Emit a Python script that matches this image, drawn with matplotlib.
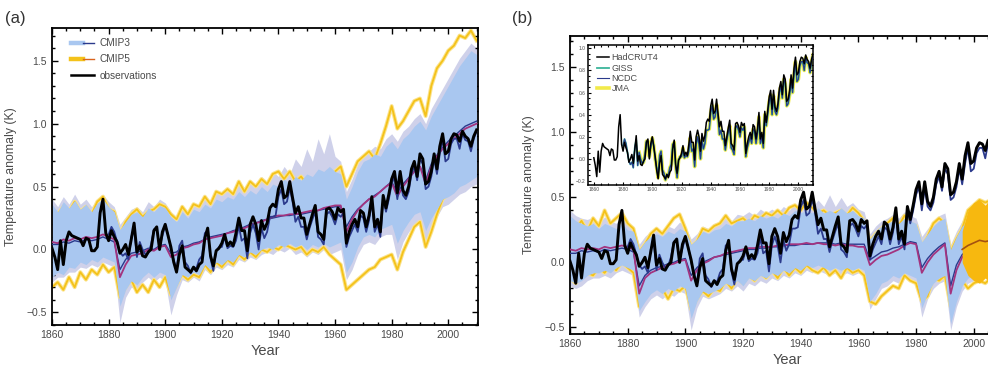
import numpy as np
import matplotlib
matplotlib.use("Agg")
import matplotlib.pyplot as plt
from matplotlib.lines import Line2D
from matplotlib.legend_handler import HandlerTuple
from matplotlib.ticker import MultipleLocator

plt.rcParams['font.family'] = ['Liberation Sans', 'DejaVu Sans']

# ---------------- data ----------------
years = np.arange(1860, 2011)        # annual observations
years_obs2 = np.arange(1880, 2011)
yrs2 = np.arange(1860, 2011, 2)      # model envelopes, every 2 years

obs = [0.01, -0.06, -0.16, 0.07, -0.12, 0.07, 0.14, 0.11, 0.10, 0.09,
       0.08, 0.03, 0.09, 0.08, -0.01, -0.01, 0.02, 0.29, 0.40, 0.13,
       0.07, 0.15, 0.10, 0.06, -0.03, 0.00, 0.04, -0.04, 0.08, 0.21,
       -0.02, 0.03, -0.05, -0.06, -0.02, 0.00, 0.15, 0.18, 0.00, 0.14,
       0.20, 0.11, 0.02, -0.10, -0.18, -0.04, 0.03, -0.14, -0.16, -0.18,
       -0.14, -0.17, -0.12, -0.10, 0.09, 0.17, -0.05, -0.13, -0.01, 0.01,
       0.05, 0.12, 0.03, 0.06, 0.03, 0.13, 0.25, 0.15, 0.15, -0.01,
       0.20, 0.26, 0.20, 0.07, 0.23, 0.16, 0.21, 0.33, 0.36, 0.34,
       0.48, 0.54, 0.41, 0.43, 0.54, 0.41, 0.29, 0.34, 0.25, 0.25,
       0.12, 0.20, 0.28, 0.35, 0.14, 0.12, 0.08, 0.32, 0.33, 0.30,
       0.24, 0.33, 0.30, 0.32, 0.05, 0.14, 0.20, 0.24, 0.18, 0.31,
       0.29, 0.18, 0.27, 0.42, 0.18, 0.24, 0.14, 0.43, 0.33, 0.44,
       0.56, 0.62, 0.45, 0.62, 0.47, 0.43, 0.50, 0.64, 0.70, 0.58,
       0.76, 0.72, 0.52, 0.54, 0.62, 0.76, 0.64, 0.82, 0.92, 0.76,
       0.78, 0.88, 0.92, 0.91, 0.86, 0.94, 0.90, 0.88, 0.82, 0.90,
       0.95]

obs2 = [0.12, 0.18, 0.14, 0.06, -0.02, -0.05, -0.03, -0.08, 0.10, 0.17,
        -0.06, 0.06, 0.00, -0.04, -0.03, 0.04, 0.16, 0.16, 0.02, 0.11,
        0.19, 0.12, 0.00, -0.08, -0.17, 0.03, 0.07, -0.10, -0.13, -0.19,
        -0.14, -0.15, -0.08, -0.05, 0.13, 0.15, -0.07, -0.17, -0.01, 0.02,
        0.02, 0.10, 0.01, 0.03, 0.02, 0.07, 0.19, 0.07, 0.09, -0.07,
        0.13, 0.20, 0.13, 0.00, 0.17, 0.09, 0.14, 0.26, 0.26, 0.27,
        0.42, 0.48, 0.36, 0.38, 0.49, 0.38, 0.22, 0.26, 0.18, 0.18,
        0.08, 0.17, 0.24, 0.30, 0.10, 0.08, 0.04, 0.28, 0.30, 0.26,
        0.20, 0.28, 0.26, 0.29, 0.02, 0.10, 0.15, 0.20, 0.14, 0.27,
        0.25, 0.14, 0.23, 0.38, 0.14, 0.20, 0.10, 0.40, 0.30, 0.40,
        0.52, 0.58, 0.40, 0.57, 0.43, 0.40, 0.46, 0.60, 0.66, 0.55,
        0.72, 0.68, 0.48, 0.50, 0.58, 0.72, 0.60, 0.76, 0.88, 0.70,
        0.72, 0.84, 0.88, 0.88, 0.80, 0.92, 0.87, 0.86, 0.78, 0.88,
        0.94]

# panel (a): all forcings
a_blue_hi = [0.36, 0.30, 0.38, 0.33, 0.39, 0.32, 0.36, 0.30, 0.37, 0.40,
             0.34, 0.30, 0.16, 0.22, 0.28, 0.30, 0.26, 0.33, 0.30, 0.35,
             0.33, 0.26, 0.22, 0.30, 0.25, 0.32, 0.30, 0.36, 0.33, 0.40,
             0.38, 0.42, 0.40, 0.46, 0.42, 0.47, 0.44, 0.50, 0.46, 0.52,
             0.50, 0.56, 0.52, 0.58, 0.55, 0.60, 0.58, 0.64, 0.62, 0.66,
             0.62, 0.60, 0.40, 0.50, 0.62, 0.70, 0.72, 0.76, 0.74, 0.82,
             0.86, 0.80, 0.88, 0.92, 0.98, 1.02, 0.95, 1.06, 1.14, 1.22,
             1.30, 1.38, 1.46, 1.52, 1.58, 1.55]
a_blue_lo = [-0.22, -0.18, -0.20, -0.14, -0.15, -0.10, -0.12, -0.08, -0.10, -0.06,
             -0.08, -0.10, -0.45, -0.32, -0.25, -0.28, -0.22, -0.18, -0.22, -0.18,
             -0.20, -0.40, -0.30, -0.20, -0.22, -0.18, -0.20, -0.12, -0.16, -0.10,
             -0.12, -0.08, -0.10, -0.04, -0.06, -0.02, -0.04, 0.00, 0.02, 0.00,
             0.04, 0.02, 0.05, 0.02, 0.04, 0.00, 0.04, 0.02, 0.05, 0.02,
             0.04, 0.06, -0.18, -0.10, 0.02, 0.10, 0.12, 0.10, 0.16, 0.18,
             0.20, 0.05, 0.15, 0.22, 0.28, 0.30, 0.15, 0.25, 0.32, 0.40,
             0.42, 0.45, 0.50, 0.52, 0.55, 0.58]
a_lav_hi = [0.40, 0.34, 0.42, 0.36, 0.44, 0.36, 0.40, 0.34, 0.40, 0.44,
            0.38, 0.34, 0.20, 0.26, 0.32, 0.34, 0.30, 0.38, 0.34, 0.40,
            0.37, 0.30, 0.26, 0.35, 0.30, 0.37, 0.34, 0.42, 0.38, 0.45,
            0.44, 0.48, 0.46, 0.54, 0.48, 0.55, 0.50, 0.58, 0.54, 0.62,
            0.58, 0.66, 0.60, 0.72, 0.66, 0.80, 0.70, 0.88, 0.76, 0.92,
            0.74, 0.70, 0.46, 0.56, 0.68, 0.76, 0.78, 0.82, 0.80, 0.88,
            0.92, 0.86, 0.94, 0.98, 1.04, 1.08, 1.00, 1.12, 1.20, 1.28,
            1.36, 1.44, 1.52, 1.58, 1.64, 1.60]
a_lav_lo = [-0.26, -0.22, -0.22, -0.18, -0.18, -0.14, -0.15, -0.12, -0.14, -0.10,
            -0.12, -0.14, -0.58, -0.38, -0.30, -0.32, -0.26, -0.22, -0.26, -0.22,
            -0.25, -0.52, -0.36, -0.24, -0.26, -0.22, -0.25, -0.16, -0.20, -0.14,
            -0.16, -0.12, -0.14, -0.08, -0.10, -0.06, -0.08, -0.04, -0.02, -0.04,
            0.00, -0.02, 0.01, -0.04, -0.02, -0.06, -0.02, -0.04, 0.00, -0.04,
            -0.02, 0.00, -0.24, -0.16, -0.04, 0.04, 0.06, 0.04, 0.10, 0.12,
            0.12, -0.08, 0.06, 0.14, 0.20, 0.22, 0.06, 0.18, 0.26, 0.34,
            0.36, 0.40, 0.44, 0.46, 0.50, 0.52]
a_yel_hi = [0.30, 0.28, 0.34, 0.30, 0.38, 0.30, 0.34, 0.28, 0.38, 0.42,
            0.32, 0.30, 0.12, 0.22, 0.28, 0.32, 0.26, 0.30, 0.32, 0.36,
            0.34, 0.28, 0.24, 0.34, 0.28, 0.36, 0.34, 0.42, 0.36, 0.46,
            0.44, 0.48, 0.44, 0.54, 0.46, 0.54, 0.50, 0.56, 0.52, 0.60,
            0.62, 0.56, 0.62, 0.54, 0.58, 0.52, 0.56, 0.54, 0.50, 0.58,
            0.62, 0.66, 0.50, 0.60, 0.70, 0.74, 0.78, 0.72, 0.84, 0.98,
            1.14, 0.96, 1.02, 1.10, 1.18, 1.20, 1.06, 1.30, 1.44, 1.50,
            1.58, 1.62, 1.70, 1.68, 1.74, 1.66]
a_yel_lo = [-0.30, -0.26, -0.32, -0.22, -0.30, -0.18, -0.24, -0.16, -0.20, -0.12,
            -0.18, -0.14, -0.38, -0.30, -0.24, -0.34, -0.28, -0.34, -0.24, -0.30,
            -0.22, -0.36, -0.28, -0.20, -0.24, -0.20, -0.22, -0.12, -0.18, -0.10,
            -0.14, -0.08, -0.12, -0.04, -0.08, -0.02, -0.06, 0.00, -0.02, 0.02,
            0.00, 0.04, 0.02, 0.00, 0.02, -0.04, 0.00, -0.02, 0.02, -0.04,
            -0.08, -0.12, -0.32, -0.28, -0.24, -0.20, -0.16, -0.14, -0.08, -0.06,
            -0.04, -0.16, -0.02, 0.08, 0.18, 0.22, 0.02, 0.14, 0.28, 0.40,
            0.44, 0.48, 0.52, 0.56, 0.60, 0.62]
a_mean5 = [0.06, 0.05, 0.08, 0.07, 0.09, 0.08, 0.10, 0.09, 0.10, 0.12,
           0.10, 0.08, -0.22, -0.12, -0.05, -0.04, -0.03, 0.00, -0.01, 0.02,
           0.03, -0.06, -0.04, 0.01, 0.02, 0.04, 0.05, 0.08, 0.09, 0.10,
           0.11, 0.13, 0.14, 0.16, 0.17, 0.19, 0.21, 0.22, 0.24, 0.26,
           0.27, 0.27, 0.28, 0.28, 0.29, 0.30, 0.31, 0.31, 0.33, 0.34,
           0.35, 0.35, 0.14, 0.24, 0.31, 0.36, 0.40, 0.42, 0.46, 0.50,
           0.53, 0.42, 0.50, 0.56, 0.62, 0.66, 0.52, 0.66, 0.74, 0.80,
           0.84, 0.88, 0.92, 0.96, 0.98, 1.00]
a_mean3 = [0.04, 0.04, 0.06, 0.05, 0.07, 0.06, 0.08, 0.07, 0.08, 0.10,
           0.08, 0.06, -0.16, -0.08, -0.03, -0.02, -0.01, 0.01, 0.00, 0.03,
           0.04, -0.03, -0.02, 0.02, 0.03, 0.05, 0.06, 0.08, 0.10, 0.11,
           0.12, 0.13, 0.15, 0.16, 0.18, 0.20, 0.21, 0.23, 0.24, 0.25,
           0.26, 0.27, 0.27, 0.28, 0.28, 0.29, 0.30, 0.31, 0.32, 0.33,
           0.34, 0.34, 0.18, 0.26, 0.32, 0.36, 0.40, 0.43, 0.46, 0.50,
           0.54, 0.45, 0.52, 0.57, 0.62, 0.66, 0.55, 0.68, 0.75, 0.81,
           0.86, 0.90, 0.94, 0.98, 1.00, 1.02]

# panel (b): natural forcings only
b_blue_hi = [0.36, 0.32, 0.30, 0.28, 0.30, 0.26, 0.30, 0.28, 0.26, 0.30,
             0.25, 0.24, 0.10, 0.16, 0.20, 0.22, 0.20, 0.24, 0.22, 0.26,
             0.24, 0.14, 0.18, 0.24, 0.22, 0.25, 0.26, 0.30, 0.28, 0.32,
             0.32, 0.34, 0.32, 0.36, 0.34, 0.36, 0.34, 0.38, 0.36, 0.40,
             0.38, 0.40, 0.38, 0.42, 0.38, 0.40, 0.38, 0.42, 0.38, 0.40,
             0.36, 0.34, 0.18, 0.24, 0.28, 0.30, 0.32, 0.30, 0.34, 0.32,
             0.30, 0.16, 0.22, 0.28, 0.32, 0.34, 0.10, 0.20, 0.28, 0.32,
             0.34, 0.36, 0.38, 0.36, 0.38, 0.36]
b_blue_lo = [-0.14, -0.16, -0.14, -0.10, -0.08, -0.08, -0.06, -0.08, -0.04, -0.02,
             -0.04, -0.06, -0.37, -0.30, -0.24, -0.21, -0.24, -0.20, -0.22, -0.18,
             -0.20, -0.43, -0.30, -0.22, -0.24, -0.22, -0.20, -0.16, -0.18, -0.14,
             -0.18, -0.12, -0.14, -0.10, -0.12, -0.08, -0.10, -0.06, -0.08, -0.04,
             -0.06, -0.02, -0.04, -0.02, -0.04, -0.06, -0.04, -0.06, -0.04, -0.06,
             -0.04, -0.06, -0.30, -0.24, -0.16, -0.14, -0.10, -0.12, -0.08, -0.10,
             -0.12, -0.35, -0.24, -0.16, -0.12, -0.10, -0.47, -0.30, -0.18, -0.12,
             -0.10, -0.08, -0.06, -0.08, -0.06, -0.08]
b_lav_hi = [0.40, 0.36, 0.34, 0.33, 0.35, 0.30, 0.35, 0.32, 0.30, 0.36,
            0.30, 0.28, 0.14, 0.20, 0.24, 0.27, 0.24, 0.28, 0.26, 0.31,
            0.28, 0.18, 0.22, 0.28, 0.26, 0.30, 0.31, 0.35, 0.32, 0.37,
            0.36, 0.39, 0.36, 0.41, 0.38, 0.41, 0.38, 0.43, 0.40, 0.45,
            0.42, 0.46, 0.42, 0.48, 0.43, 0.52, 0.43, 0.50, 0.43, 0.46,
            0.41, 0.39, 0.22, 0.28, 0.32, 0.34, 0.37, 0.34, 0.39, 0.36,
            0.34, 0.20, 0.26, 0.32, 0.36, 0.38, 0.14, 0.24, 0.32, 0.36,
            0.38, 0.40, 0.42, 0.40, 0.42, 0.40]
b_lav_lo = [-0.18, -0.20, -0.18, -0.14, -0.12, -0.12, -0.10, -0.12, -0.08, -0.06,
            -0.08, -0.10, -0.42, -0.34, -0.28, -0.25, -0.28, -0.24, -0.26, -0.22,
            -0.24, -0.52, -0.35, -0.26, -0.28, -0.26, -0.24, -0.20, -0.22, -0.18,
            -0.22, -0.16, -0.18, -0.14, -0.16, -0.12, -0.14, -0.10, -0.12, -0.08,
            -0.10, -0.06, -0.08, -0.06, -0.08, -0.10, -0.08, -0.10, -0.08, -0.10,
            -0.08, -0.10, -0.36, -0.28, -0.20, -0.18, -0.14, -0.16, -0.12, -0.14,
            -0.16, -0.42, -0.28, -0.20, -0.16, -0.14, -0.52, -0.34, -0.22, -0.16,
            -0.14, -0.12, -0.10, -0.12, -0.10, -0.12]
b_yel_hi = [0.30, 0.26, 0.32, 0.24, 0.34, 0.28, 0.40, 0.30, 0.34, 0.38,
            0.30, 0.26, 0.08, 0.14, 0.22, 0.26, 0.22, 0.28, 0.34, 0.37,
            0.26, 0.12, 0.16, 0.26, 0.24, 0.28, 0.30, 0.36, 0.30, 0.32,
            0.34, 0.30, 0.36, 0.34, 0.38, 0.36, 0.40, 0.36, 0.42, 0.44,
            0.40, 0.46, 0.42, 0.38, 0.40, 0.36, 0.38, 0.40, 0.36, 0.42,
            0.38, 0.32, 0.16, 0.22, 0.26, 0.30, 0.34, 0.28, 0.36, 0.30,
            0.28, 0.12, 0.20, 0.30, 0.34, 0.30, 0.08, 0.18, 0.26, 0.40,
            0.44, 0.48, 0.46, 0.48, 0.44, 0.46]
b_yel_lo = [-0.12, -0.16, -0.10, -0.08, -0.10, -0.04, -0.08, -0.02, -0.06, 0.00,
            -0.04, -0.08, -0.34, -0.26, -0.22, -0.18, -0.20, -0.28, -0.20, -0.22,
            -0.18, -0.36, -0.28, -0.22, -0.26, -0.20, -0.22, -0.14, -0.20, -0.12,
            -0.16, -0.10, -0.14, -0.08, -0.12, -0.06, -0.12, -0.04, -0.10, -0.04,
            -0.08, -0.02, -0.06, -0.08, -0.04, -0.10, -0.06, -0.12, -0.04, -0.08,
            -0.06, -0.10, -0.30, -0.32, -0.26, -0.22, -0.18, -0.20, -0.10, -0.14,
            -0.16, -0.30, -0.26, -0.12, -0.14, -0.10, -0.34, -0.24, -0.14, -0.20,
            -0.16, -0.14, -0.16, -0.12, -0.14, -0.12]
b_mean5 = [0.10, 0.09, 0.11, 0.10, 0.11, 0.10, 0.12, 0.11, 0.12, 0.13,
           0.12, 0.10, -0.24, -0.12, -0.08, -0.06, -0.04, -0.02, -0.01, 0.01,
           0.02, -0.14, -0.06, -0.01, 0.01, 0.04, 0.05, 0.07, 0.08, 0.09,
           0.10, 0.11, 0.11, 0.12, 0.12, 0.12, 0.13, 0.13, 0.14, 0.14,
           0.14, 0.15, 0.14, 0.15, 0.14, 0.14, 0.13, 0.14, 0.13, 0.13,
           0.12, 0.12, -0.02, 0.02, 0.05, 0.06, 0.08, 0.10, 0.13, 0.15,
           0.14, -0.08, 0.00, 0.06, 0.10, 0.14, -0.24, -0.06, 0.04, 0.09,
           0.13, 0.15, 0.16, 0.16, 0.15, 0.15]
b_mean3 = [0.07, 0.07, 0.09, 0.08, 0.09, 0.08, 0.10, 0.09, 0.10, 0.11,
           0.10, 0.08, -0.18, -0.10, -0.06, -0.04, -0.03, -0.01, 0.00, 0.02,
           0.03, -0.10, -0.04, 0.00, 0.02, 0.04, 0.05, 0.06, 0.07, 0.08,
           0.09, 0.10, 0.10, 0.11, 0.11, 0.12, 0.12, 0.13, 0.13, 0.13,
           0.14, 0.14, 0.14, 0.15, 0.15, 0.15, 0.14, 0.15, 0.14, 0.14,
           0.14, 0.14, 0.02, 0.05, 0.08, 0.09, 0.11, 0.12, 0.14, 0.16,
           0.15, -0.04, 0.03, 0.08, 0.12, 0.15, -0.18, -0.02, 0.06, 0.10,
           0.13, 0.15, 0.16, 0.16, 0.15, 0.15]

# CMIP5 extension (orange) at the end of panel (b)
ext_years = [1996, 1998, 2000, 2002, 2004, 2006, 2008, 2010]
ext_hi = [0.24, 0.40, 0.46, 0.48, 0.44, 0.50, 0.46, 0.42]
ext_lo = [0.00, -0.10, -0.14, -0.16, -0.12, -0.16, -0.14, -0.10]
ext_mid = [0.10, 0.13, 0.15, 0.17, 0.16, 0.17, 0.16, 0.15]

for arr in [a_blue_hi, a_blue_lo, a_lav_hi, a_lav_lo, a_yel_hi, a_yel_lo, a_mean5, a_mean3,
            b_blue_hi, b_blue_lo, b_lav_hi, b_lav_lo, b_yel_hi, b_yel_lo, b_mean5, b_mean3]:
    assert len(arr) == len(yrs2), len(arr)
assert len(obs) == len(years) and len(obs2) == len(years_obs2)

# ---------------- colours ----------------
c_blue = "#a9c7f0"
c_lav = "#cfd1ea"
c_yel = "#f4c21a"
c_yel_light = "#fbe38c"
c_mag = "#a3347f"
c_navy = "#2b3a8c"
grey = "#4a4a4a"


def style(ax, ylim):
    ax.set_xlim(1860, 2010.5)
    ax.set_ylim(*ylim)
    ax.xaxis.set_major_locator(MultipleLocator(20))
    ax.xaxis.set_minor_locator(MultipleLocator(5))
    ax.yaxis.set_major_locator(MultipleLocator(0.5))
    ax.yaxis.set_minor_locator(MultipleLocator(0.1))
    ax.tick_params(which='both', direction='in', top=True, right=True,
                   labelsize=7.5, labelcolor=grey, width=1.0)
    ax.tick_params(which='major', length=4.5)
    ax.tick_params(which='minor', length=2.5)
    for s in ax.spines.values():
        s.set_linewidth(1.3)
    ax.set_xlabel('Year', fontsize=10.5, color=grey, labelpad=3)
    ax.set_ylabel('Temperature anomaly (K)', fontsize=8.8, color=grey, labelpad=7)


def draw_models(ax, lav_hi, lav_lo, blue_hi, blue_lo, yel_hi, yel_lo, m5, m3):
    ax.fill_between(yrs2, lav_lo, lav_hi, color=c_lav, lw=0, zorder=1)
    # CMIP5 spread: drawn beneath the CMIP3 band so only the excursions show
    for y in (yel_hi, yel_lo):
        ax.plot(yrs2, y, color=c_yel_light, lw=2.8, zorder=1.5)
        ax.plot(yrs2, y, color=c_yel, lw=1.3, zorder=1.6)
    ax.fill_between(yrs2, blue_lo, blue_hi, color=c_blue, lw=0, zorder=2)
    ax.plot(yrs2, m3, color=c_navy, lw=1.0, zorder=4)
    ax.plot(yrs2, m5, color=c_mag, lw=1.3, zorder=4)


def draw_obs(ax):
    ax.plot(years_obs2, obs2, color=c_navy, lw=1.3, zorder=5)
    ax.plot(years, obs, color='black', lw=2.1, zorder=6)


fig = plt.figure(figsize=(9.88, 3.76), dpi=100)

# ---------------- panel (a) ----------------
ax1 = fig.add_axes([52 / 988, 1 - 325 / 376, 426 / 988, 297 / 376])
draw_models(ax1, a_lav_hi, a_lav_lo, a_blue_hi, a_blue_lo, a_yel_hi, a_yel_lo, a_mean5, a_mean3)
draw_obs(ax1)
style(ax1, (-0.6, 1.76))

h3 = (Line2D([], [], color=c_blue, lw=3.2), Line2D([], [], color=c_navy, lw=1.0))
h5 = (Line2D([], [], color=c_yel, lw=3.2), Line2D([], [], color="#d9631e", lw=1.0))
hob = Line2D([], [], color='black', lw=1.8)
leg = ax1.legend([h3, h5, hob], ['CMIP3', 'CMIP5', 'observations'],
                 handler_map={tuple: HandlerTuple(ndivide=None)},
                 loc='upper left', bbox_to_anchor=(0.045, 0.965), frameon=False,
                 fontsize=7.3, handlelength=2.3, handletextpad=0.5, labelspacing=0.6,
                 borderaxespad=0, borderpad=0)
for t in leg.get_texts():
    t.set_color(grey)

fig.text(5 / 988, 1 - 18 / 376, '(a)', fontsize=12, color='#333333', va='center')

# ---------------- panel (b) ----------------
ax2 = fig.add_axes([570 / 988, 1 - 334 / 376, 434 / 988, 298 / 376])
draw_models(ax2, b_lav_hi, b_lav_lo, b_blue_hi, b_blue_lo, b_yel_hi, b_yel_lo, b_mean5, b_mean3)
ax2.fill_between(ext_years, ext_lo, ext_hi, color="#f7b80f", lw=0, zorder=4)
ax2.plot(ext_years, ext_mid, color="#a5520f", lw=1.2, zorder=4)
draw_obs(ax2)
style(ax2, (-0.55, 1.74))

fig.text(512 / 988, 1 - 18 / 376, '(b)', fontsize=12, color='#333333', va='center')

# inset with the observational datasets
axi = fig.add_axes([588 / 988, 1 - 185 / 376, 225 / 988, 140 / 376])
axi.plot(years_obs2[11:], obs2[11:], color="#f2ea4a", lw=2.6, label='JMA', zorder=1)
axi.plot(years_obs2, obs2, color="#3bb59b", lw=1.3, label='GISS', zorder=2)
axi.plot(years_obs2, obs2, color=c_navy, lw=0.8, label='NCDC', zorder=3)
axi.plot(years, obs, color='black', lw=1.1, label='HadCRUT4', zorder=4)
axi.set_xlim(1856, 2010)
axi.set_ylim(-0.236, 1.03)
axi.xaxis.set_major_locator(MultipleLocator(20))
axi.xaxis.set_minor_locator(MultipleLocator(5))
axi.yaxis.set_major_locator(MultipleLocator(0.2))
axi.yaxis.set_minor_locator(MultipleLocator(0.05))
axi.tick_params(which='both', direction='in', top=True, right=True,
                labelsize=3.5, labelcolor=grey, pad=1.5, width=0.8)
axi.tick_params(which='major', length=2.5)
axi.tick_params(which='minor', length=1.3)
for s in axi.spines.values():
    s.set_linewidth(1.1)
hi, li = axi.get_legend_handles_labels()
order = [3, 1, 2, 0]
legi = axi.legend([hi[i] for i in order], [li[i] for i in order], loc='upper left',
                  bbox_to_anchor=(0.04, 0.94), frameon=False, fontsize=6.5,
                  handlelength=1.3, handletextpad=0.3, labelspacing=0.15,
                  borderaxespad=0, borderpad=0)
for t in legi.get_texts():
    t.set_color(grey)

fig.savefig('out.png', dpi=100)
